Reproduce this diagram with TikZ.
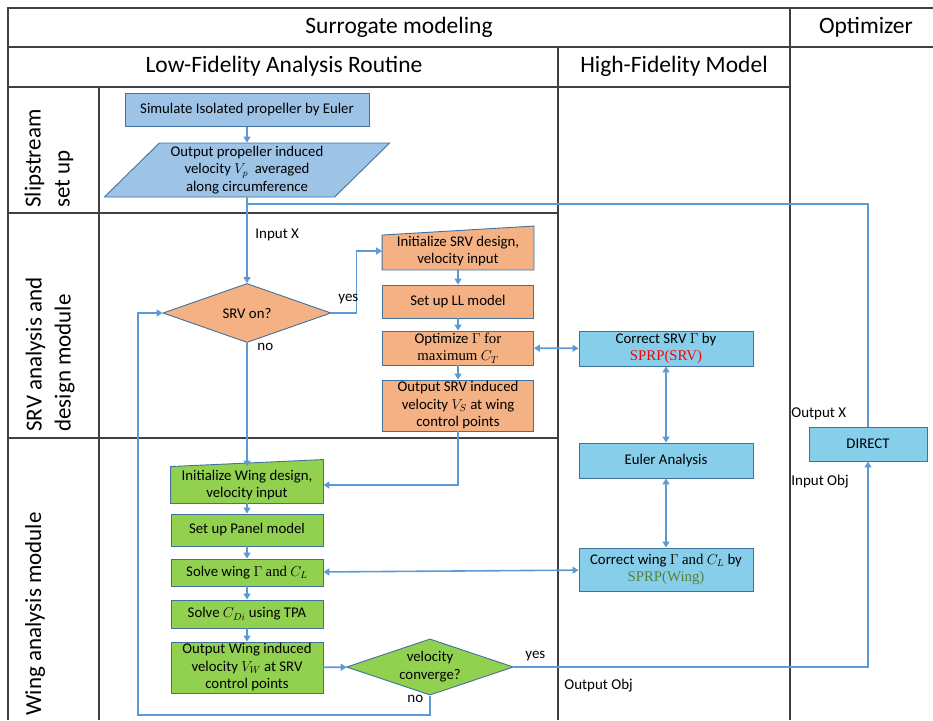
\documentclass[tikz,border=0pt]{standalone}
\usepackage{fontspec}
\setmainfont{Carlito}
\newfontfamily\tnr{Liberation Serif}
\usetikzlibrary{shapes.geometric,arrows.meta,backgrounds}

\definecolor{tabgray}{HTML}{404040}
\definecolor{flowblue}{HTML}{5B9BD5}
\definecolor{edgeblue}{HTML}{41719C}
\definecolor{slipfill}{HTML}{9DC3E6}
\definecolor{srvfill}{HTML}{F4B183}
\definecolor{wingfill}{HTML}{92D050}
\definecolor{hififill}{HTML}{87CEEB}
\definecolor{sprpred}{HTML}{FF0000}
\definecolor{sprpgreen}{HTML}{548235}

\begin{document}
\begin{tikzpicture}[x=1pt, y=-1pt, thick,
    tab/.style = {draw=tabgray, line width=1.3pt},
    head/.style = {font=\fontsize{23.5}{28}\selectfont},
    lane/.style = {rotate=90, anchor=west, align=left, inner sep=0pt, font=\fontsize{23}{29}\selectfont},
    box/.style = {rectangle, draw=edgeblue, line width=0.9pt, align=center, inner sep=1pt, font=\fontsize{14.8}{17.5}\selectfont},
    slip/.style = {box, fill=slipfill},
    srv/.style = {box, fill=srvfill, minimum width=151},
    wing/.style = {box, fill=wingfill, minimum width=152},
    hifi/.style = {box, fill=hififill, minimum width=174},
    inbox/.style = {box, draw=none},
    dec/.style = {diamond, draw=edgeblue, line width=0.9pt, align=center, inner sep=0pt, font=\fontsize{14.8}{18}\selectfont},
    flow/.style = {draw=flowblue, line width=1.6pt, ->, >={Triangle[width=7pt,length=6pt]}},
    both/.style = {flow, <->},
    link/.style = {draw=flowblue, line width=1.6pt},
    lbl/.style = {anchor=west, inner sep=0pt, font=\fontsize{15}{18}\selectfont}]
    \useasboundingbox (0,0) rectangle (933,720);

    % table frame
    \draw[tab] (8,720) -- (8,8) -- (933,8);
    \draw[tab] (8,47) -- (933,47);
    \draw[tab] (8,87) -- (790,87);
    \draw[tab] (790,8) -- (790,720);
    \draw[tab] (558,47) -- (558,720);
    \draw[tab] (99,87) -- (99,720);
    \draw[tab] (8,213) -- (558,213);
    \draw[tab] (8,438) -- (558,438);

    \node[head] (hs) at (399,27) {Surrogate modeling};
    \node[head] (ho) at (866,27) {Optimizer};
    \node[head] (hl) at (284,66) {Low-Fidelity Analysis Routine};
    \node[head] (hh) at (674,66) {High-Fidelity Model};

    \node[lane] (l1) at (49,208) {Slipstream\\set up};
    \node[lane] (l2) at (50,432) {SRV analysis and\\design module};
    \node[lane] (l3) at (35,716) {Wing analysis module};

    % slipstream
    \node[slip, minimum width=244, minimum height=33] (p1) at (247,110) {Simulate Isolated propeller by Euler};
    \node[trapezium, draw=edgeblue, line width=0.9pt, fill=slipfill, trapezium left angle=45, trapezium right angle=135,
          trapezium stretches=true, minimum width=286, minimum height=54, inner sep=0pt, align=center,
          font=\fontsize{14.8}{17.5}\selectfont] (p2) at (247,170)
          {Output propeller induced\\velocity $V_p$\ \ averaged\\along circumference};

    % SRV module
    \node[dec, fill=srvfill, minimum width=168, minimum height=48] (s0) at (247,313) {SRV on?};
    \node[inbox, minimum width=151, minimum height=37] (s1) at (458,251) {Initialize SRV design,\\velocity input};
    \node[srv, minimum height=33] (s2) at (458,301.5) {Set up LL model};
    \node[srv, minimum height=34] (s3) at (458,348) {Optimize $\Gamma$ {\tnr for}\\{\tnr maximum} $C_T$};
    \node[srv, minimum height=51] (s4) at (458,405.5) {Output SRV induced\\velocity $V_S$ at wing\\control points};

    % wing module
    \node[inbox, minimum width=152, minimum height=36] (w1) at (247,485) {Initialize Wing design,\\velocity input};
    \node[wing, minimum height=32] (w2) at (247,530) {Set up Panel model};
    \node[wing, minimum height=27] (w3) at (247,572.5) {Solve wing $\Gamma$ {\tnr and} $C_L$};
    \node[wing, minimum height=28] (w4) at (247,614) {Solve $C_{Di}$ using TPA};
    \node[wing, minimum height=51] (w5) at (247,667.5) {Output Wing induced\\velocity $V_W$ at SRV\\control points};
    \node[dec, fill=wingfill, minimum width=167, minimum height=47, inner sep=-9pt] (w6) at (430,667) {velocity\\converge?};

    % high fidelity
    \node[hifi, minimum height=35] (h1) at (666,348.5) {Correct SRV $\Gamma$ by\\{\tnr\color{sprpred}SPRP(SRV)}};
    \node[hifi, minimum height=35] (h2) at (666,460.5) {Euler Analysis};
    \node[hifi, minimum height=43] (h3) at (666,569.5) {Correct wing $\Gamma$ {\tnr and} $C_L$ by\\{\tnr\color{sprpgreen}SPRP(Wing)}};

    % optimizer
    \node[hifi, minimum width=118, minimum height=34] (opt) at (868,444) {DIRECT};

    % manual input outlines
    \begin{scope}[on background layer]
        \draw[draw=edgeblue, line width=0.9pt, fill=srvfill] (s1.south west) -- ([yshift=-3pt]s1.north west)
            -- ([yshift=6pt]s1.north east) -- (s1.south east) -- cycle;
        \draw[draw=edgeblue, line width=0.9pt, fill=wingfill] (w1.south west) -- (w1.north west)
            -- ([yshift=7pt]w1.north east) -- (w1.south east) -- cycle;
    \end{scope}

    \coordinate (j1) at (247,204);
    \coordinate (c1) at (138,715);

    \draw[flow] (p1) -- (p2);
    \draw[flow] (p2) -- (s0);
    \draw[link] (opt) -- (opt |- j1) -- (j1);
    \draw[flow] (s0.east) -- ++(25,0) |- (s1.west);
    \draw[flow] (s1) -- (s2);
    \draw[flow] (s2) -- (s3);
    \draw[flow] (s3) -- (s4);
    \draw[flow] (s4.south) |- (w1.east);
    \draw[flow] (s0) -- (w1);
    \draw[flow] (w1) -- (w2);
    \draw[flow] (w2) -- (w3);
    \draw[flow] (w3) -- (w4);
    \draw[flow] (w4) -- (w5);
    \draw[flow] (w5) -- (w6);
    \draw[flow] (w6.east) -| (opt.south);
    \draw[flow] (w6.south) |- (c1) |- (s0.west);

    \draw[both] (s3) -- (h1);
    \draw[both] (h1) -- (h2);
    \draw[both] (h2) -- (h3);
    \draw[both] (w3) -- (h3);

    \node[lbl] (t1) at (255,235) {Input X};
    \node[lbl] (t2) at (338,299) {yes};
    \node[lbl] (t3) at (257,347) {no};
    \node[lbl] (t4) at (525,656) {yes};
    \node[lbl] (t5) at (407,699) {no};
    \node[lbl] (t6) at (564,686) {Output Obj};
    \node[lbl] (t7) at (791,414) {Output X};
    \node[lbl] (t8) at (791,482) {Input Obj};
\end{tikzpicture}
\end{document}
